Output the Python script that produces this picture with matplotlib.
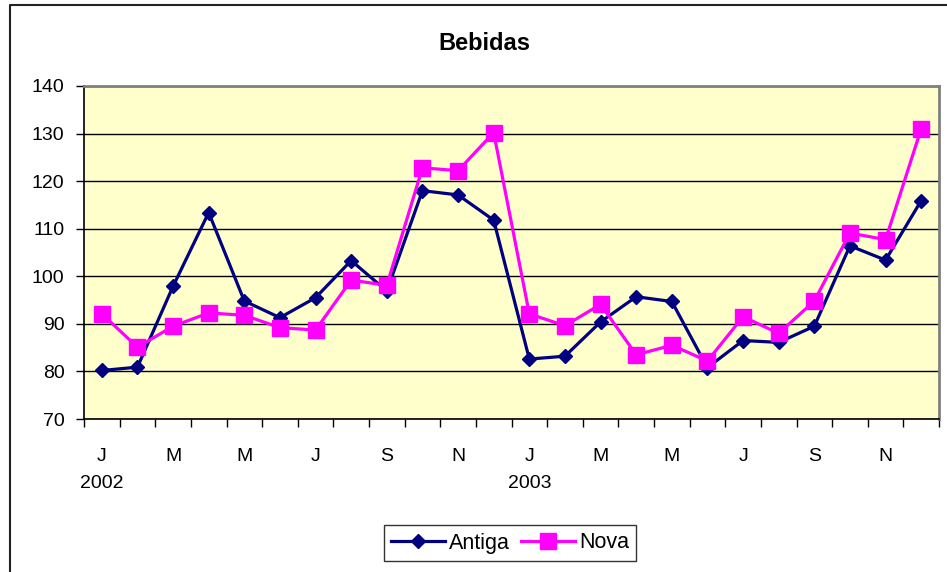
import numpy as np
import matplotlib.pyplot as plt
from matplotlib.lines import Line2D

plt.rcParams['font.family'] = ['Liberation Sans', 'DejaVu Sans']

# Dados mensais, jan/2002 a dez/2003
meses = ['J', 'F', 'M', 'A', 'M', 'J', 'J', 'A', 'S', 'O', 'N', 'D'] * 2
anos = ['2002', '2003']
antiga = [80.2, 80.9, 97.9, 113.4, 94.8, 91.3, 95.5, 103.3, 96.9, 118.0, 117.1, 111.8,
          82.6, 83.2, 90.4, 95.7, 94.7, 80.8, 86.5, 86.1, 89.5, 106.4, 103.4, 115.9]
nova = [92.1, 85.1, 89.5, 92.3, 91.8, 89.2, 88.7, 99.2, 98.1, 122.8, 122.2, 130.2,
        92.1, 89.6, 94.1, 83.5, 85.5, 82.2, 91.5, 88.0, 94.8, 109.1, 107.7, 131.0]
yticks = [70, 80, 90, 100, 110, 120, 130, 140]

fig = plt.figure(figsize=(9.47, 5.72), dpi=100)
ax = fig.add_axes([84 / 947, 1 - 419 / 572, (939 - 84) / 947, (419 - 86) / 572])
ax.set_facecolor('#FFFFCC')

x = np.arange(len(antiga))
ax.plot(x, antiga, color='#000080', lw=2.3, marker='D', ms=7.5,
        mfc='#000080', mec='#000080', label='Antiga', zorder=3)
ax.plot(x, nova, color='#FF00FF', lw=2.3, marker='s', ms=11,
        mfc='#FF00FF', mec='#FF00FF', label='Nova', zorder=3)

ax.set_xlim(-0.5, len(x) - 0.5)
ax.set_ylim(70, 140)
ax.set_yticks(yticks)
ax.tick_params(axis='y', labelsize=14, length=6, width=1, pad=8)
ax.yaxis.grid(True, color='black', lw=1)
ax.set_axisbelow(True)

# marcas entre categorias, rótulos a cada dois meses
ax.set_xticks(np.arange(len(x) + 1) - 0.5)
ax.set_xticklabels([])
ax.tick_params(axis='x', which='major', length=6, width=1)
ax.set_xticks(x[::2], meses[::2], minor=True)
ax.tick_params(axis='x', which='minor', length=0, labelsize=14, pad=21)
for i, a in enumerate(anos):
    ax.text(12 * i, -0.195, a, transform=ax.get_xaxis_transform(),
            ha='center', va='center', fontsize=14)

for s in ['top', 'right']:
    ax.spines[s].set_color('#808080')
    ax.spines[s].set_linewidth(2)
for s in ['left', 'bottom']:
    ax.spines[s].set_color('black')
    ax.spines[s].set_linewidth(1.2)

fig.text(484 / 947, 1 - 43 / 572, 'Bebidas', fontsize=17, fontweight='bold',
         ha='center', va='center')

leg = ax.legend(loc='center', bbox_to_anchor=(510 / 947, 1 - 543 / 572),
                bbox_transform=fig.transFigure, ncol=2, fontsize=15.5,
                frameon=True, fancybox=False, edgecolor='black',
                handlelength=2.5, handletextpad=0.2, columnspacing=0.5,
                borderpad=0.35)
leg.get_frame().set_linewidth(1)

# moldura externa do gráfico
fig.add_artist(Line2D([9.5 / 947, 9.5 / 947, 1.0], [0.0, 1 - 5 / 572, 1 - 5 / 572],
                      transform=fig.transFigure, color='#222222', lw=1.5))

fig.savefig('out.png', dpi=100)
